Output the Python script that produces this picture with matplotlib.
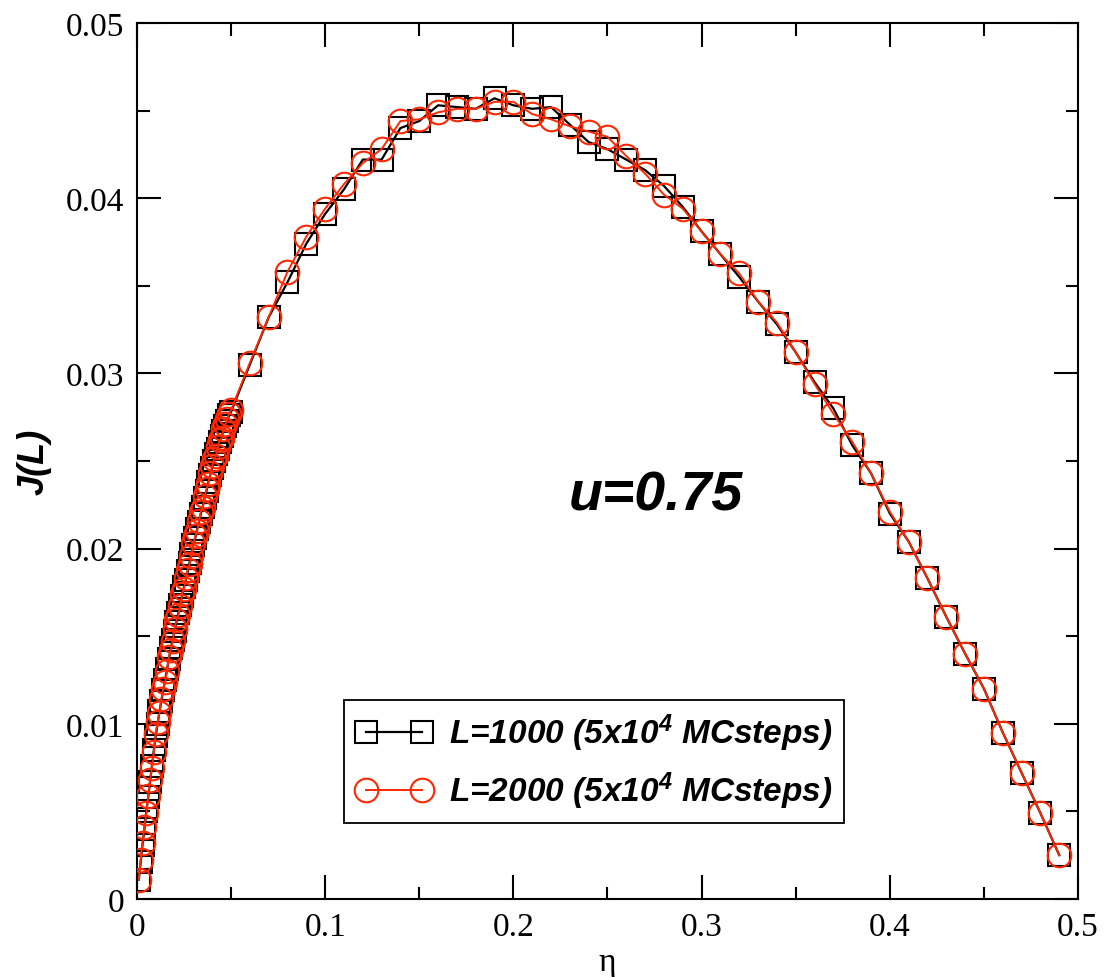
import matplotlib
matplotlib.use("Agg")
import matplotlib.pyplot as plt
from matplotlib.ticker import MultipleLocator, FuncFormatter

plt.rcParams['mathtext.fontset'] = 'custom'
plt.rcParams['mathtext.rm'] = 'Liberation Sans:bold:italic'
plt.rcParams['mathtext.it'] = 'Liberation Sans:bold:italic'
plt.rcParams['mathtext.bf'] = 'Liberation Sans:bold:italic'

# densities: fine steps below 0.05, then steps of 0.01
eta_fine = [i / 1000 for i in range(1, 51)]
eta_coarse = [i / 100 for i in range(6, 50)]
eta = eta_fine + eta_coarse

# L=1000 current
J_1000_fine = [0.0011, 0.0021, 0.0031, 0.0040, 0.0050, 0.0058, 0.0067, 0.0076, 0.0085, 0.0093,
               0.0100, 0.0107, 0.0113, 0.0119, 0.0125, 0.0131, 0.0137, 0.0143, 0.0148, 0.0153,
               0.0158, 0.0163, 0.0168, 0.0173, 0.0178, 0.0182, 0.0187, 0.0192, 0.0197, 0.0202,
               0.0206, 0.0211, 0.0215, 0.0220, 0.0224, 0.0229, 0.0233, 0.0238, 0.0242, 0.0246,
               0.0250, 0.0254, 0.0257, 0.0261, 0.0264, 0.0267, 0.0270, 0.0273, 0.0276, 0.0278]
J_1000_coarse = [0.0305, 0.0332, 0.0352, 0.0374, 0.0391, 0.0405, 0.0422, 0.0422, 0.0440, 0.0444,
                 0.0453, 0.0452, 0.0451, 0.0457, 0.0453, 0.0451, 0.0452, 0.0442, 0.0432, 0.0428,
                 0.0422, 0.0416, 0.0407, 0.0395, 0.0381, 0.0368, 0.0355, 0.0341, 0.0328, 0.0312,
                 0.0295, 0.0280, 0.0259, 0.0243, 0.0220, 0.0204, 0.0183, 0.0161, 0.0140, 0.0120,
                 0.0095, 0.0072, 0.0049, 0.0025]

# L=2000 current
J_2000_fine = [0.0011, 0.0022, 0.0032, 0.0041, 0.0049, 0.0059, 0.0068, 0.0075, 0.0084, 0.0094,
               0.0101, 0.0106, 0.0114, 0.0120, 0.0124, 0.0130, 0.0138, 0.0142, 0.0147, 0.0154,
               0.0159, 0.0162, 0.0167, 0.0174, 0.0177, 0.0183, 0.0188, 0.0191, 0.0196, 0.0203,
               0.0207, 0.0210, 0.0216, 0.0221, 0.0223, 0.0230, 0.0234, 0.0237, 0.0243, 0.0247,
               0.0251, 0.0253, 0.0258, 0.0262, 0.0263, 0.0268, 0.0271, 0.0274, 0.0277, 0.0279]
J_2000_coarse = [0.0306, 0.0332, 0.0358, 0.0378, 0.0394, 0.0408, 0.0420, 0.0428, 0.0444, 0.0445,
                 0.0449, 0.0451, 0.0451, 0.0455, 0.0455, 0.0448, 0.0445, 0.0441, 0.0438, 0.0435,
                 0.0424, 0.0414, 0.0402, 0.0394, 0.0381, 0.0368, 0.0357, 0.0341, 0.0329, 0.0312,
                 0.0294, 0.0277, 0.0261, 0.0243, 0.0221, 0.0204, 0.0183, 0.0161, 0.0140, 0.0120,
                 0.0095, 0.0072, 0.0049, 0.0025]

J_1000 = J_1000_fine + J_1000_coarse
J_2000 = J_2000_fine + J_2000_coarse

labels = [r'L=1000 (5x10$^{4}$ MCsteps)', r'L=2000 (5x10$^{4}$ MCsteps)']
red = '#ff2800'

fig = plt.figure(figsize=(11.04, 9.78), dpi=100)
ax = fig.add_axes([0.124, 0.0798, 0.8525, 0.8957])

ax.plot(eta, J_1000, color='black', lw=1.6, marker='s', ms=15.5, mfc='none',
        mec='black', mew=1.5, label=labels[0], zorder=3)
ax.plot(eta, J_2000, color=red, lw=1.4, marker='o', ms=17, mfc='none',
        mec=red, mew=1.5, label=labels[1], zorder=4)

ax.set_xlim(0, 0.5)
ax.set_ylim(0, 0.05)
ax.xaxis.set_major_locator(MultipleLocator(0.1))
ax.xaxis.set_minor_locator(MultipleLocator(0.05))
ax.yaxis.set_major_locator(MultipleLocator(0.01))
ax.yaxis.set_minor_locator(MultipleLocator(0.005))
fmt = FuncFormatter(lambda v, p: '%g' % round(v, 4))
ax.xaxis.set_major_formatter(fmt)
ax.yaxis.set_major_formatter(fmt)

ax.tick_params(which='both', direction='in', top=True, right=True, width=1.5)
ax.tick_params(which='major', length=17, pad=9)
ax.tick_params(which='minor', length=9)
for lab in ax.get_xticklabels() + ax.get_yticklabels():
    lab.set_fontfamily('Liberation Serif')
    lab.set_fontsize(24)
for sp in ax.spines.values():
    sp.set_linewidth(1.5)

ax.set_xlabel('η', fontfamily='Liberation Serif', fontsize=24, labelpad=3)
ax.set_ylabel('J(L)', fontfamily='Liberation Sans', fontweight='bold',
              fontstyle='italic', fontsize=26, labelpad=10)

ax.text(0.2755, 0.0230, 'u=0.75', fontfamily='Liberation Sans', fontweight='bold',
        fontstyle='italic', fontsize=40, ha='center', va='center')

leg = ax.legend(loc='lower left', bbox_to_anchor=(0.22, 0.0868), borderaxespad=0,
                numpoints=2, handlelength=2.3, fancybox=False, framealpha=1,
                edgecolor='black', borderpad=0.35, labelspacing=0.5, handletextpad=0.5,
                prop={'family': 'Liberation Sans', 'weight': 'bold', 'style': 'italic', 'size': 24})
leg.get_frame().set_linewidth(1.3)

fig.savefig('out.png', dpi=100)
